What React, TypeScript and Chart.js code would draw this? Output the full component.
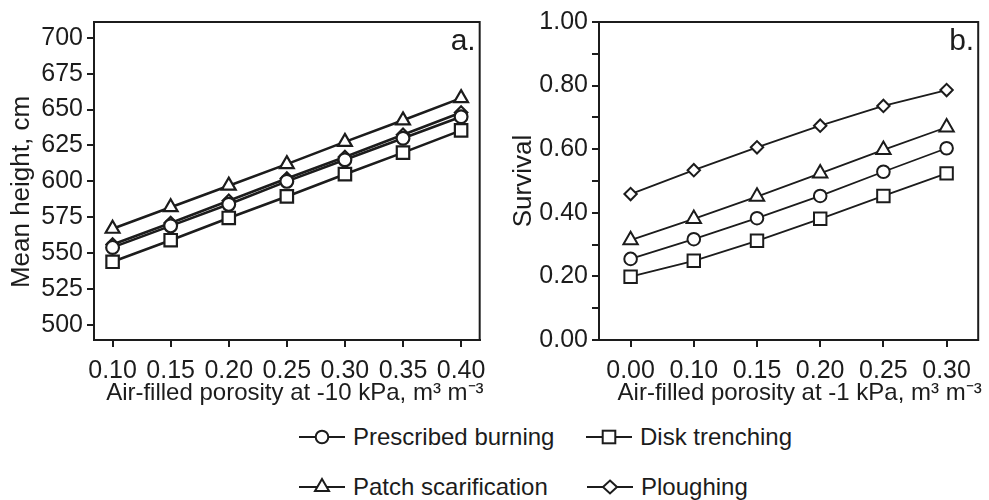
import React, { useEffect, useRef } from "react";
import { Chart, registerables } from "chart.js";

Chart.register(...registerables);

const FONT = "Arial, Helvetica, sans-serif";
const INK = "#1c1c1c";

// ---- Panel a data ----
const porosityA = [0.1, 0.15, 0.2, 0.25, 0.3, 0.35, 0.4];
const prescribedA = [554, 569, 584, 600, 615, 630, 645];
const diskA = [544, 559, 574.5, 589.5, 605, 620, 635.5];
const patchA = [567, 582, 597, 612, 627.5, 642.5, 658];
const ploughA = [556, 571, 586.5, 602, 617, 632.5, 648];
const xTicksA = [0.1, 0.15, 0.2, 0.25, 0.3, 0.35, 0.4];
const yTicksA = [500, 525, 550, 575, 600, 625, 650, 675, 700];

// ---- Panel b data ----
const porosityB = ["0.00", "0.10", "0.15", "0.20", "0.25", "0.30"];
const prescribedB = [0.255, 0.317, 0.383, 0.453, 0.529, 0.603];
const diskB = [0.199, 0.249, 0.312, 0.381, 0.453, 0.524];
const patchB = [0.314, 0.381, 0.451, 0.524, 0.598, 0.669];
const ploughB = [0.459, 0.534, 0.606, 0.674, 0.736, 0.786];

const seriesNames = ["Prescribed burning", "Disk trenching", "Patch scarification", "Ploughing"];

const TICK = 25;
const XTITLE = 24;
const YTITLE = 26;

type TitleCfg = {
  panel: string;
  xTitle: string;
  yTitle: string;
  xShift: number;
  yShift: number;
  yTitleX: number;
};

const decorPlugin = (cfg: TitleCfg) => ({
  id: "decor_" + cfg.panel,
  beforeDatasetsDraw(chart: any) {
    const { ctx, chartArea: a } = chart;
    ctx.save();
    ctx.strokeStyle = INK;
    ctx.lineWidth = 2;
    ctx.strokeRect(a.left, a.top, a.right - a.left, a.bottom - a.top);
    ctx.restore();
  },
  afterDraw(chart: any) {
    const { ctx, chartArea: a } = chart;
    ctx.save();
    ctx.fillStyle = INK;
    ctx.font = "30px " + FONT;
    ctx.textAlign = "right";
    ctx.textBaseline = "alphabetic";
    ctx.fillText(cfg.panel, a.right - 4, a.top + 28);
    ctx.font = XTITLE + "px " + FONT;
    ctx.textAlign = "center";
    ctx.textBaseline = "alphabetic";
    ctx.fillText(cfg.xTitle, (a.left + a.right) / 2 + cfg.xShift, 400);
    ctx.font = YTITLE + "px " + FONT;
    ctx.textBaseline = "middle";
    ctx.translate(cfg.yTitleX, (a.top + a.bottom) / 2 + cfg.yShift);
    ctx.rotate(-Math.PI / 2);
    ctx.fillText(cfg.yTitle, 0, 0);
    ctx.restore();
  },
});

function axisCommon(lw: number) {
  return {
    grid: { drawOnChartArea: false, drawTicks: true, tickLength: 7, color: INK, lineWidth: lw },
    border: { display: true, color: INK, width: lw },
  };
}

function makeA(canvas: HTMLCanvasElement) {
  const toPts = (arr: number[]) => porosityA.map((x, i) => ({ x, y: arr[i] }));
  const ds = (name: string, data: number[], style: string, r: number, order: number) => ({
    label: name,
    data: toPts(data),
    borderColor: INK,
    borderWidth: 2.6,
    pointStyle: style,
    pointRadius: r,
    pointBorderWidth: 2.2,
    pointBackgroundColor: "#fff",
    pointBorderColor: INK,
    order,
  });
  return new Chart(canvas, {
    type: "line",
    data: {
      datasets: [
        ds(seriesNames[0], prescribedA, "circle", 6.4, 1),
        ds(seriesNames[1], diskA, "rect", 8.8, 2),
        ds(seriesNames[2], patchA, "triangle", 8, 3),
        ds(seriesNames[3], ploughA, "rectRot", 6.2, 4),
      ],
    },
    options: {
      responsive: false,
      animation: false,
      layout: { padding: { left: 0, right: 12, top: 22, bottom: 0 } },
      plugins: { legend: { display: false }, tooltip: { enabled: false } },
      scales: {
        x: {
          type: "linear",
          min: 0.084,
          max: 0.416,
          afterBuildTicks: (s: any) => {
            s.ticks = xTicksA.map((v) => ({ value: v }));
          },
          afterFit: (s: any) => {
            s.height = 80;
          },
          ticks: {
            autoSkip: false,
            maxRotation: 0,
            color: INK,
            font: { size: TICK, family: FONT },
            padding: 9,
            callback: (v: any) => Number(v).toFixed(2),
          },
          title: { display: false },
          ...axisCommon(2),
        },
        y: {
          type: "linear",
          min: 489.5,
          max: 711,
          afterBuildTicks: (s: any) => {
            s.ticks = yTicksA.map((v) => ({ value: v }));
          },
          afterFit: (s: any) => {
            s.width = 94;
          },
          ticks: {
            autoSkip: false,
            color: INK,
            font: { size: TICK, family: FONT },
            padding: 4,
          },
          title: { display: false },
          ...axisCommon(2),
        },
      },
    },
    plugins: [
      decorPlugin({
        panel: "a.",
        xTitle: "Air-filled porosity at -10 kPa, m³ m⁻³",
        yTitle: "Mean height, cm",
        xShift: 8,
        yShift: 11,
        yTitleX: 22,
      }),
    ],
  } as any);
}

function makeB(canvas: HTMLCanvasElement) {
  const ds = (name: string, data: number[], style: string, r: number, order: number) => ({
    label: name,
    data,
    borderColor: INK,
    borderWidth: 1.8,
    pointStyle: style,
    pointRadius: r,
    pointBorderWidth: 2,
    pointBackgroundColor: "#fff",
    pointBorderColor: INK,
    order,
  });
  return new Chart(canvas, {
    type: "line",
    data: {
      labels: porosityB,
      datasets: [
        ds(seriesNames[0], prescribedB, "circle", 6.3, 1),
        ds(seriesNames[1], diskB, "rect", 8.8, 2),
        ds(seriesNames[2], patchB, "triangle", 8.3, 3),
        ds(seriesNames[3], ploughB, "rectRot", 6.2, 4),
      ],
    },
    options: {
      responsive: false,
      animation: false,
      layout: { padding: { left: 0, right: 1.5, top: 22, bottom: 0 } },
      plugins: { legend: { display: false }, tooltip: { enabled: false } },
      scales: {
        x: {
          type: "category",
          offset: true,
          afterFit: (s: any) => {
            s.height = 80;
          },
          ticks: {
            autoSkip: false,
            maxRotation: 0,
            color: INK,
            font: { size: TICK, family: FONT },
            padding: 9,
          },
          title: { display: false },
          ...axisCommon(2),
        },
        y: {
          type: "linear",
          min: 0,
          max: 1,
          afterFit: (s: any) => {
            s.width = 104;
          },
          ticks: {
            autoSkip: false,
            stepSize: 0.1,
            color: INK,
            font: { size: TICK, family: FONT },
            padding: 4,
            callback: (v: any) => {
              const n = Math.round(Number(v) * 10);
              return n % 2 === 0 ? (n / 10).toFixed(2) : "";
            },
          },
          title: { display: false },
          ...axisCommon(2),
        },
      },
    },
    plugins: [
      decorPlugin({
        panel: "b.",
        xTitle: "Air-filled porosity at -1 kPa, m³ m⁻³",
        yTitle: "Survival",
        xShift: 11,
        yShift: 0,
        yTitleX: 29,
      }),
    ],
  } as any);
}

function Icon({ kind }: { kind: string }) {
  const c = 23;
  let marker: any = null;
  if (kind === "circle") marker = <circle cx={c} cy={12} r={6.3} fill="#fff" stroke={INK} strokeWidth={2} />;
  if (kind === "rect") marker = <rect x={c - 6.3} y={12 - 6.3} width={12.6} height={12.6} fill="#fff" stroke={INK} strokeWidth={2} />;
  if (kind === "triangle")
    marker = <polygon points={`${c},${12 - 8} ${c + 7},${12 + 4} ${c - 7},${12 + 4}`} fill="#fff" stroke={INK} strokeWidth={2} />;
  if (kind === "rectRot")
    marker = <polygon points={`${c},5.5 ${c + 7},12 ${c},18.5 ${c - 7},12`} fill="#fff" stroke={INK} strokeWidth={2} />;
  return (
    <svg width={47} height={24} style={{ display: "block" }}>
      <line x1={0} y1={12} x2={46} y2={12} stroke={INK} strokeWidth={2} />
      {marker}
    </svg>
  );
}

const legendItems = [
  { name: seriesNames[0], kind: "circle", x: 299, y: 437 },
  { name: seriesNames[1], kind: "rect", x: 586, y: 437 },
  { name: seriesNames[2], kind: "triangle", x: 299, y: 487 },
  { name: seriesNames[3], kind: "rectRot", x: 587, y: 487 },
];

export default function App() {
  const refA = useRef<HTMLCanvasElement>(null);
  const refB = useRef<HTMLCanvasElement>(null);
  useEffect(() => {
    const a = makeA(refA.current!);
    const b = makeB(refB.current!);
    return () => {
      a.destroy();
      b.destroy();
    };
  }, []);
  return (
    <div style={{ position: "fixed", left: 0, top: 0, width: 989, height: 500, background: "#fff", overflow: "hidden", fontFamily: FONT }}>
      <canvas ref={refA} width={495} height={420} style={{ position: "absolute", left: 0, top: 0, width: 495, height: 420 }} />
      <canvas ref={refB} width={494} height={420} style={{ position: "absolute", left: 495, top: 0, width: 494, height: 420 }} />
      {legendItems.map((it) => (
        <div key={it.name} style={{ position: "absolute", left: it.x, top: it.y - 14, height: 28, display: "flex", alignItems: "center", whiteSpace: "nowrap" }}>
          <Icon kind={it.kind} />
          <span style={{ marginLeft: 7, fontSize: 24, color: INK, lineHeight: "28px" }}>{it.name}</span>
        </div>
      ))}
    </div>
  );
}
